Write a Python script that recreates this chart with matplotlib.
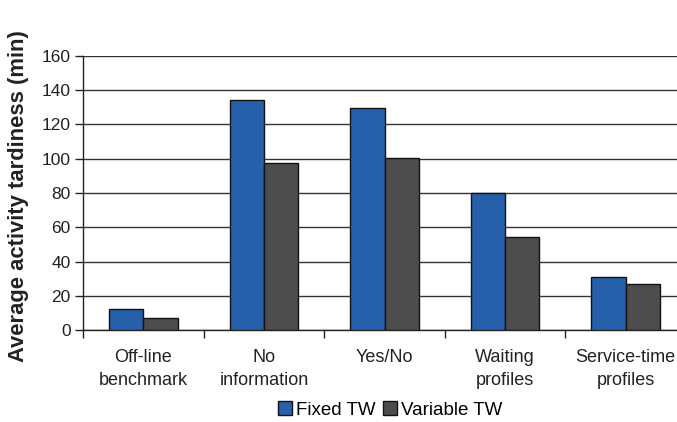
import matplotlib
matplotlib.use("Agg")
import matplotlib.pyplot as plt
import numpy as np
from matplotlib.patches import Patch

categories = ["Off-line\nbenchmark", "No\ninformation", "Yes/No", "Waiting\nprofiles", "Service-time\nprofiles"]
fixed_tw = [12.3, 134.3, 129.6, 80.0, 31.0]
variable_tw = [7.2, 97.8, 100.4, 54.3, 26.8]
series_names = ["Fixed TW", "Variable TW"]
yticks = [0, 20, 40, 60, 80, 100, 120, 140, 160]

plt.rcParams['font.family'] = ['Liberation Sans', 'DejaVu Sans']

fig = plt.figure(figsize=(6.77, 4.22), dpi=100)
ax = fig.add_axes([83/677, 1-330/422, (686-83)/677, (330-56)/422])

blue = "#2660aa"
gray = "#4d4d4d"
n = len(categories)
centers = np.arange(n) + 0.5
w = 0.285
ax.bar(centers - w/2, fixed_tw, width=w, color=blue, edgecolor="#111111", linewidth=1.0, zorder=3)
ax.bar(centers + w/2, variable_tw, width=w, color=gray, edgecolor="#111111", linewidth=1.0, zorder=3)

ax.set_xlim(0, n)
ax.set_ylim(0, 160)
ax.set_yticks(yticks)
ax.tick_params(axis='y', labelsize=12.5, length=6, width=1, direction='out', pad=3, color="#222222", labelcolor="#222222")
ax.yaxis.grid(True, color="#333333", linewidth=1.0, zorder=0)
ax.set_axisbelow(True)

ax.set_xticks(np.arange(n + 1))
ax.set_xticklabels([])
ax.tick_params(axis='x', which='major', length=6, width=1, direction='out', color="#222222")
ax.set_xticks(centers, minor=True)
ax.set_xticklabels(categories, minor=True, fontsize=13, color="#222222", linespacing=1.4)
ax.tick_params(axis='x', which='minor', length=0, pad=14)

for s in ['top', 'right']:
    ax.spines[s].set_visible(False)
ax.spines['left'].set_color("#222222")
ax.spines['bottom'].set_color("#222222")
ax.spines['left'].set_linewidth(1)
ax.spines['bottom'].set_linewidth(1)

ax.set_ylabel("Average activity tardiness (min)", fontsize=15.8, fontweight='bold', color="#222222")
ax.yaxis.set_label_coords((29 - 83) / 603, 0.49)

handles = [Patch(facecolor=blue, edgecolor="#111111", label=series_names[0]),
           Patch(facecolor=gray, edgecolor="#111111", label=series_names[1])]
fig.legend(handles=handles, loc='center', bbox_to_anchor=(390/677, 1-410/422), ncol=2, frameon=False,
           fontsize=13.5, handlelength=0.75, handleheight=0.75, handletextpad=0.2, columnspacing=0.4)

fig.savefig("out.png", dpi=100)
